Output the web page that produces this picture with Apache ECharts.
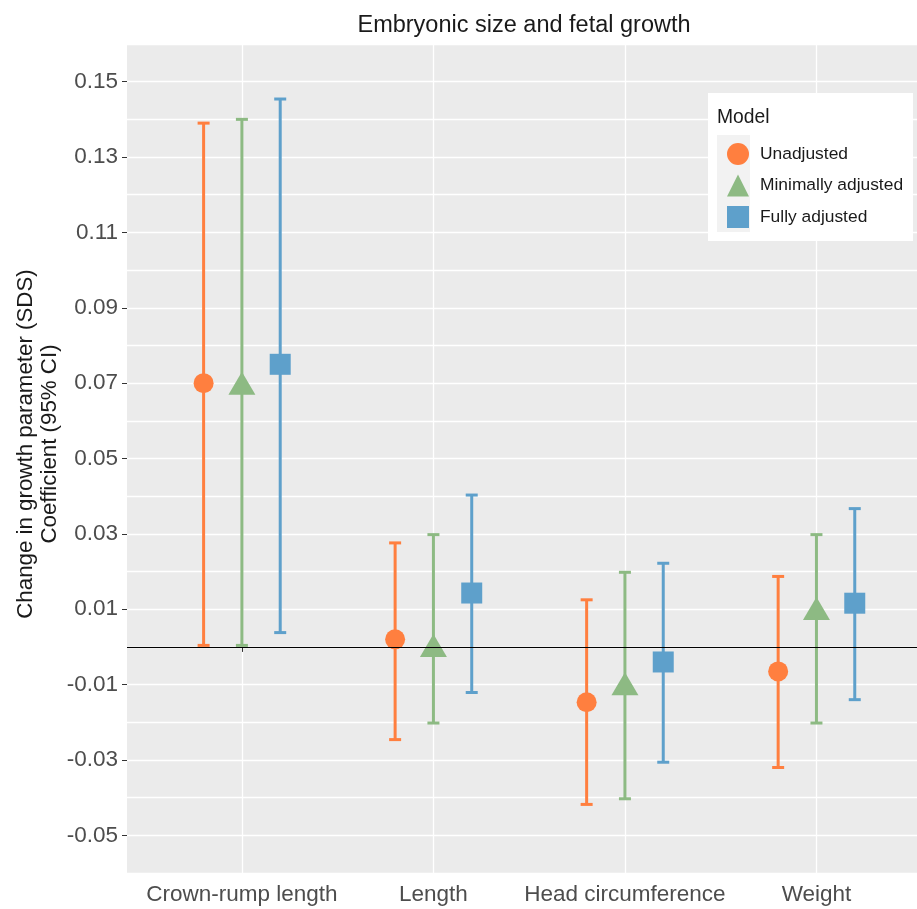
<!DOCTYPE html>
<html>
<head>
<meta charset="utf-8">
<script src="https://cdn.jsdelivr.net/npm/echarts@6/dist/echarts.min.js"></script>
<style>
  html, body { margin: 0; padding: 0; background: #fff; }
  #chart { width: 917px; height: 909px; }
</style>
</head>
<body>
<div id="chart"></div>
<script>
// categories and estimates
const categories = ['Crown-rump length', 'Length', 'Head circumference', 'Weight'];
const modelNames = ['Unadjusted', 'Minimally adjusted', 'Fully adjusted'];

const unadjEst = [0.0700, 0.0020, -0.0147, -0.0065];
const unadjLow = [0.0004, -0.0246, -0.0418, -0.0320];
const unadjHigh = [0.1390, 0.0276, 0.0125, 0.0187];

const minEst = [0.0700, 0.0004, -0.0098, 0.0102];
const minLow = [0.0004, -0.0202, -0.0403, -0.0202];
const minHigh = [0.1400, 0.0298, 0.0198, 0.0298];

const fullEst = [0.0750, 0.0143, -0.0040, 0.0116];
const fullLow = [0.0038, -0.0121, -0.0306, -0.0140];
const fullHigh = [0.1454, 0.0403, 0.0222, 0.0367];

const yTickValues = [-0.05, -0.03, -0.01, 0.01, 0.03, 0.05, 0.07, 0.09, 0.11, 0.13, 0.15];
const xTickValues = [1, 2, 3, 4];

const colors = ['#FF7F3F', '#8DBA83', '#5EA0CB'];
const dodge = [-0.2, 0, 0.2];
const fontFamily = '"Liberation Sans", Arial, sans-serif';

// vertical bar with caps, drawn from [x, low, high]
function errorBars(name, color, offset, lows, highs) {
    return {
        type: 'custom',
        name: name + ' CI',
        z: 3,
        data: lows.map((lo, i) => [i + 1 + offset, lo, highs[i]]),
        encode: { x: 0, y: [1, 2] },
        renderItem: (params, api) => {
            const x = api.value(0);
            const top = api.coord([x, api.value(2)]);
            const bot = api.coord([x, api.value(1)]);
            const half = 6;
            const style = { stroke: color, lineWidth: 3 };
            return {
                type: 'group',
                children: [
                    { type: 'line', shape: { x1: top[0], y1: top[1], x2: bot[0], y2: bot[1] }, style },
                    { type: 'line', shape: { x1: top[0] - half, y1: top[1], x2: top[0] + half, y2: top[1] }, style },
                    { type: 'line', shape: { x1: bot[0] - half, y1: bot[1], x2: bot[0] + half, y2: bot[1] }, style }
                ]
            };
        }
    };
}

function points(name, color, offset, est, symbol, size) {
    return {
        type: 'scatter',
        name: name,
        z: 4,
        symbol: symbol,
        symbolSize: size,
        itemStyle: { color: color, opacity: 1 },
        data: est.map((v, i) => [i + 1 + offset, v])
    };
}

const chart = echarts.init(document.getElementById('chart'));
chart.setOption({
    animation: false,
    backgroundColor: '#fff',
    title: {
        text: 'Embryonic size and fetal growth',
        left: 519,
        top: 9,
        textAlign: 'center',
        textStyle: { fontFamily, fontSize: 23.5, fontWeight: 'normal', color: '#1a1a1a' }
    },
    grid: {
        left: 127, right: 0, top: 44, bottom: 36,
        show: true, backgroundColor: '#EBEBEB', borderWidth: 0
    },
    xAxis: {
        type: 'value',
        min: 0.4,
        max: 4.525,
        axisLine: { show: false },
        axisTick: { show: true, customValues: xTickValues, length: 5, lineStyle: { color: '#333', width: 1 } },
        axisLabel: {
            customValues: xTickValues,
            formatter: v => categories[Math.round(v) - 1],
            fontFamily, fontSize: 22.5, color: '#4D4D4D', margin: 10
        },
        splitLine: { show: true, lineStyle: { color: '#fff', width: 1.3 } }
    },
    yAxis: {
        type: 'value',
        min: -0.06,
        max: 0.16,
        interval: 0.02,
        axisLine: { show: false },
        axisTick: { show: false },
        minorTick: { show: true, splitNumber: 2, length: 5, lineStyle: { color: '#333', width: 1 } },
        axisLabel: {
            customValues: yTickValues,
            formatter: v => v.toFixed(2),
            fontFamily, fontSize: 22.5, color: '#4D4D4D', margin: 9
        },
        splitLine: { show: true, lineStyle: { color: '#fff', width: 1.3 } },
        minorSplitLine: { show: true, lineStyle: { color: '#fff', width: 1.3 } }
    },
    legend: {
        orient: 'vertical',
        left: 722,
        top: 138,
        itemWidth: 22,
        itemHeight: 22,
        itemGap: 9.5,
        z: 10,
        textStyle: { fontFamily, fontSize: 17.4, color: '#1a1a1a', padding: [0, 0, 0, 6] },
        data: [
            { name: modelNames[0], icon: 'circle' },
            { name: modelNames[1], icon: 'triangle' },
            { name: modelNames[2], icon: 'rect' }
        ]
    },
    graphic: [
        {
            type: 'text', z: 5, x: 38, y: 444, rotation: Math.PI / 2,
            style: {
                text: 'Change in growth parameter (SDS)\nCoefficient (95% CI)',
                fontFamily, fontSize: 22.3, lineHeight: 24, fill: '#1a1a1a',
                align: 'center', verticalAlign: 'middle'
            }
        },
        { type: 'rect', z: 8, shape: { x: 708, y: 93, width: 205, height: 148 }, style: { fill: '#fff' } },
        { type: 'rect', z: 9, shape: { x: 717, y: 135, width: 33, height: 97 }, style: { fill: '#F2F2F2' } },
        {
            type: 'text', z: 9, left: 717, top: 108,
            style: { text: 'Model', fontFamily, fontSize: 19.3, fill: '#1a1a1a' }
        }
    ],
    series: [
        errorBars(modelNames[0], colors[0], dodge[0], unadjLow, unadjHigh),
        errorBars(modelNames[1], colors[1], dodge[1], minLow, minHigh),
        errorBars(modelNames[2], colors[2], dodge[2], fullLow, fullHigh),
        points(modelNames[0], colors[0], dodge[0], unadjEst, 'circle', 20),
        points(modelNames[1], colors[1], dodge[1], minEst, 'triangle', [27, 23]),
        Object.assign(points(modelNames[2], colors[2], dodge[2], fullEst, 'rect', 21), {
            markLine: {
                silent: true,
                symbol: 'none',
                label: { show: false },
                lineStyle: { color: '#000', width: 1, type: 'solid' },
                data: [{ yAxis: 0 }]
            }
        })
    ]
});
</script>
</body>
</html>
